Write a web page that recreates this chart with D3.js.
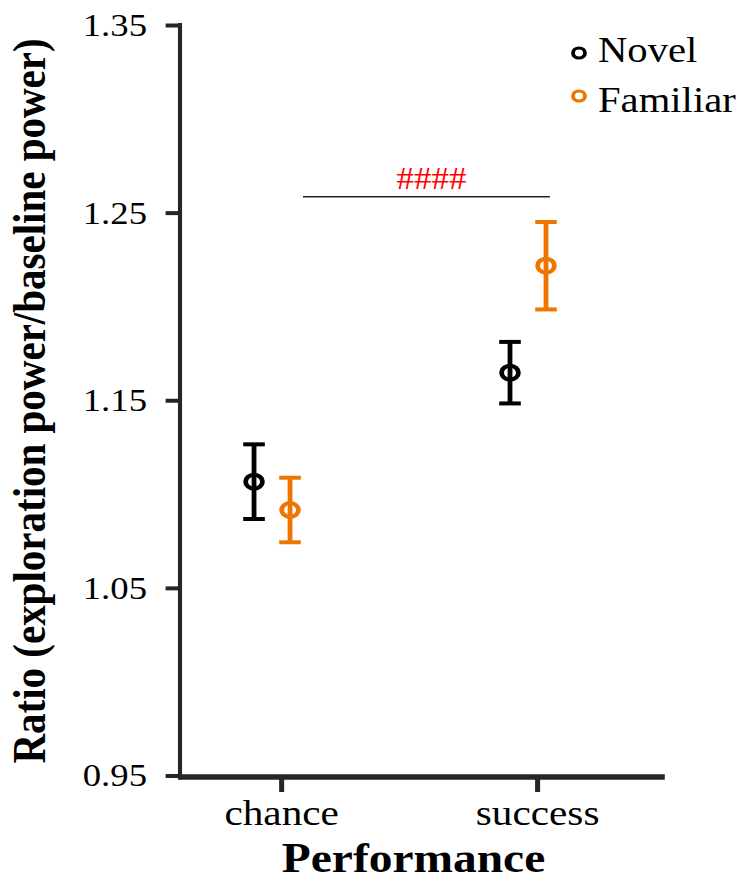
<!DOCTYPE html>
<html>
<head>
<meta charset="utf-8">
<script src="https://cdn.jsdelivr.net/npm/d3@7"></script>
<style>
    body { margin: 0; background: #fff; }
    text { font-family: "Liberation Serif", "Times New Roman", serif; }
</style>
</head>
<body>
<svg id="chart" width="746" height="880"></svg>
<script>
// values
var categories = ["chance", "success"];
var groups = ["Novel", "Familiar"];
var novelMean = [1.1066, 1.1647];
var novelSe = [0.0199, 0.0164];
var familiarMean = [1.0915, 1.2217];
var familiarSe = [0.0172, 0.0233];
var yTicks = [0.95, 1.05, 1.15, 1.25, 1.35];
var sigLabel = "####";
var sigLevel = 1.2585;

var colors = {Novel: "#000000", Familiar: "#ee7600"};
var dodge = {Novel: -22.5, Familiar: 7.5};
var axisColor = "#262626";

// the original picture is stretched sideways: marks a bit more than text
var sx = 1.2, tsx = 1.13;
var k = tsx / sx;
var svg = d3.select("#chart");
var g = svg.append("g").attr("transform", "scale(" + sx + ",1)");
var tg = svg.append("g").attr("transform", "scale(" + tsx + ",1)");

var axisLeftX = 150, axisRightX = 554, axisBottomY = 777;

var y = d3.scaleLinear().domain([0.95, 1.35]).range([775.5, 25]);
var x = d3.scalePoint().domain(categories).range([234.2, 447.5]);

var points = [];
categories.forEach(function(c, i) {
    points.push({group: "Novel", cat: c, mean: novelMean[i], se: novelSe[i]});
    points.push({group: "Familiar", cat: c, mean: familiarMean[i], se: familiarSe[i]});
});

// y axis
var yAxis = d3.axisLeft(y).tickValues(yTicks).tickFormat(d3.format(".2f"))
    .tickSize(12).tickPadding(16);
var yg = g.append("g")
    .attr("transform", "translate(" + axisLeftX + ",0)")
    .call(yAxis);
yg.select(".domain").remove();
yg.selectAll(".tick line").attr("stroke", axisColor).attr("stroke-width", 4);
yg.selectAll(".tick text")
    .attr("transform", "scale(" + k + ",1)")
    .attr("x", -33 / tsx)
    .attr("fill", "#000")
    .style("font-size", "32.5px")
    .style("font-family", "'Liberation Serif', serif");

// x axis
var xAxis = d3.axisBottom(x).tickSize(15).tickPadding(7);
var xg = g.append("g")
    .attr("transform", "translate(0," + axisBottomY + ")")
    .call(xAxis);
xg.select(".domain").remove();
xg.selectAll(".tick line").attr("stroke", axisColor).attr("stroke-width", 4.2);
xg.selectAll(".tick text")
    .attr("transform", "scale(" + k + ",1)")
    .attr("fill", "#000")
    .style("font-size", "36.5px")
    .style("font-family", "'Liberation Serif', serif");

// axis lines
g.append("line")
    .attr("x1", axisLeftX).attr("x2", axisLeftX)
    .attr("y1", y(1.35) - 2).attr("y2", axisBottomY + 2.5)
    .attr("stroke", axisColor).attr("stroke-width", 3.4);
g.append("line")
    .attr("x1", axisLeftX - 1.4).attr("x2", axisRightX)
    .attr("y1", axisBottomY).attr("y2", axisBottomY)
    .attr("stroke", axisColor).attr("stroke-width", 5.5);

// error bars + points
var capHalf = 9;
var pts = g.append("g").selectAll("g").data(points).enter().append("g")
    .attr("transform", function(d) { return "translate(" + (x(d.cat) + dodge[d.group]) + ",0)"; });
pts.append("line")
    .attr("x1", 0).attr("x2", 0)
    .attr("y1", function(d) { return y(d.mean + d.se); })
    .attr("y2", function(d) { return y(d.mean - d.se); })
    .attr("stroke", function(d) { return colors[d.group]; })
    .attr("stroke-width", 4);
pts.selectAll(".cap").data(function(d) {
        return [{v: d.mean + d.se, group: d.group}, {v: d.mean - d.se, group: d.group}];
    }).enter().append("line")
    .attr("class", "cap")
    .attr("x1", -capHalf).attr("x2", capHalf)
    .attr("y1", function(d) { return y(d.v); })
    .attr("y2", function(d) { return y(d.v); })
    .attr("stroke", function(d) { return colors[d.group]; })
    .attr("stroke-width", 4);
pts.append("circle")
    .attr("cx", 0)
    .attr("cy", function(d) { return y(d.mean); })
    .attr("r", 7)
    .attr("fill", "none")
    .attr("stroke", function(d) { return colors[d.group]; })
    .attr("stroke-width", 4);

// significance bracket
var bx1 = x("chance") + 18.3, bx2 = x("success") + 10.8;
g.append("line")
    .attr("x1", bx1).attr("x2", bx2)
    .attr("y1", y(sigLevel)).attr("y2", y(sigLevel))
    .attr("stroke", "#222").attr("stroke-width", 1.5);
tg.append("text")
    .attr("x", ((bx1 + bx2) / 2 * sx + 5) / tsx)
    .attr("y", y(sigLevel) - 8)
    .attr("text-anchor", "middle")
    .attr("fill", "#ff0000")
    .style("font-size", "31px")
    .text(sigLabel);

// legend
var legY = {Novel: [53, 62], Familiar: [96, 112]};
var leg = g.append("g").selectAll("g").data(groups).enter().append("g");
leg.append("circle")
    .attr("cx", 482.5)
    .attr("cy", function(d) { return legY[d][0]; })
    .attr("r", 5)
    .attr("fill", "none")
    .attr("stroke", function(d) { return colors[d]; })
    .attr("stroke-width", 3.2);
tg.selectAll(".legtext").data(groups).enter().append("text")
    .attr("class", "legtext")
    .attr("x", 598 / tsx)
    .attr("y", function(d) { return legY[d][1]; })
    .attr("fill", "#000")
    .style("font-size", "36px")
    .text(function(d) { return d; });

// titles
tg.append("text")
    .attr("transform", "translate(" + (45 / tsx) + ",401) rotate(-90)")
    .attr("text-anchor", "middle")
    .attr("fill", "#000")
    .style("font-size", "41px")
    .style("font-weight", "bold")
    .text("Ratio (exploration power/baseline power)");
tg.append("text")
    .attr("x", ((x("chance") + x("success")) / 2 * sx + 4.5) / tsx)
    .attr("y", 872)
    .attr("text-anchor", "middle")
    .attr("fill", "#000")
    .style("font-size", "42px")
    .style("font-weight", "bold")
    .text("Performance");
</script>
</body>
</html>
